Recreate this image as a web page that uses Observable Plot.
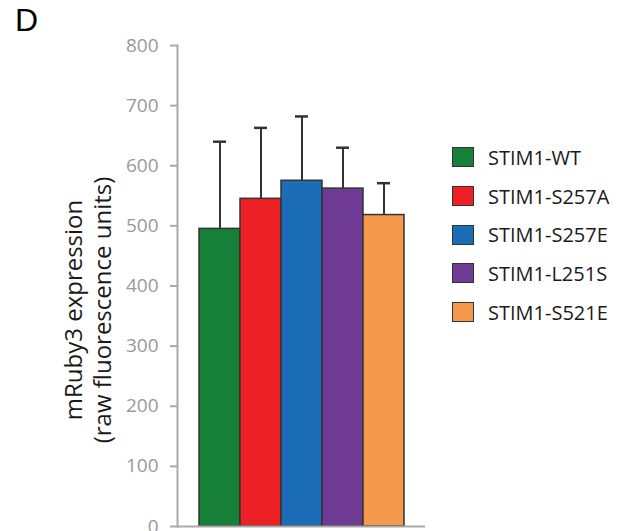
<!DOCTYPE html>
<html><head><meta charset="utf-8">
<script src="https://cdn.jsdelivr.net/npm/d3@7"></script>
<script src="https://cdn.jsdelivr.net/npm/@observablehq/plot@0.6"></script>
<style>
body{margin:0;background:#fff;font-family:"Open Sans",sans-serif;}
#wrap{position:relative;width:621px;height:531px;overflow:hidden}
#panel{position:absolute;left:15px;top:2px;font-family:"Liberation Sans",Arial,sans-serif;font-size:32px;color:#000}
#legend{position:absolute;left:452px;top:138px}
.row{display:flex;align-items:center;height:38.7px}
.sw{width:20px;height:18px;border:1.5px solid #333;box-sizing:content-box}
.lab{margin-left:14px;font-size:20px;color:#1a1a1a;white-space:nowrap}
</style></head><body>
<div id="wrap"><div id="panel">D</div><div id="legend"></div></div>
<script>
const categories = ["STIM1-WT","STIM1-S257A","STIM1-S257E","STIM1-L251S","STIM1-S521E"];
const means = [495, 545, 575, 562, 518];
const upper = [640, 663, 682, 630, 571];
const colors = ["#178038","#ED2024","#1B6DB5","#6F3A94","#F59A4C"];
const yTicks = [0,100,200,300,400,500,600,700,800];
const yLabel = "mRuby3 expression\n(raw fluorescence units)";

const data = categories.map((c,i)=>({cat:c, mean:means[i], up:upper[i]}));

const plot = Plot.plot({
  width: 621, height: 531,
  marginLeft: 177, marginRight: 196, marginTop: 45, marginBottom: 5,
  style: {fontFamily: "'Open Sans', sans-serif", background: "white"},
  x: {domain: categories, paddingInner: 0, paddingOuter: 0.5, axis: null},
  y: {domain: [0, 800]},
  color: {domain: categories, range: colors},
  marks: [
    Plot.barY(data, {x: "cat", y: "mean", fill: "cat", stroke: "#333", strokeWidth: 1.5, inset: 0}),
    Plot.ruleX(data, {x: "cat", y1: "mean", y2: "up", stroke: "#333", strokeWidth: 2}),
    Plot.tickY(data, {x: "cat", y: "up", stroke: "#333", strokeWidth: 2.5, insetLeft: 14, insetRight: 14}),
    Plot.axisY({ticks: yTicks, tickSize: 7, tickPadding: 12, stroke: "#aaa", strokeWidth: 2, fill: "#999", fontSize: 19, label: null}),
    Plot.frame({anchor: "left", stroke: "#aaa", strokeWidth: 2}),
    Plot.ruleY([0], {stroke: "#aaa", strokeWidth: 2}),
    Plot.text([yLabel], {frameAnchor: "left", rotate: -90, dx: -90, dy: 24, fontSize: 24, lineHeight: 1.2, fill: "#1a1a1a", fontWeight: 500, textAnchor: "middle"})
  ]
});
document.getElementById("wrap").prepend(plot);

const lg = document.getElementById("legend");
categories.forEach((c,i)=>{
  const r = document.createElement("div"); r.className="row";
  const s = document.createElement("div"); s.className="sw"; s.style.background = colors[i];
  const t = document.createElement("div"); t.className="lab"; t.textContent = c;
  r.append(s,t); lg.append(r);
});
</script>
</body></html>
